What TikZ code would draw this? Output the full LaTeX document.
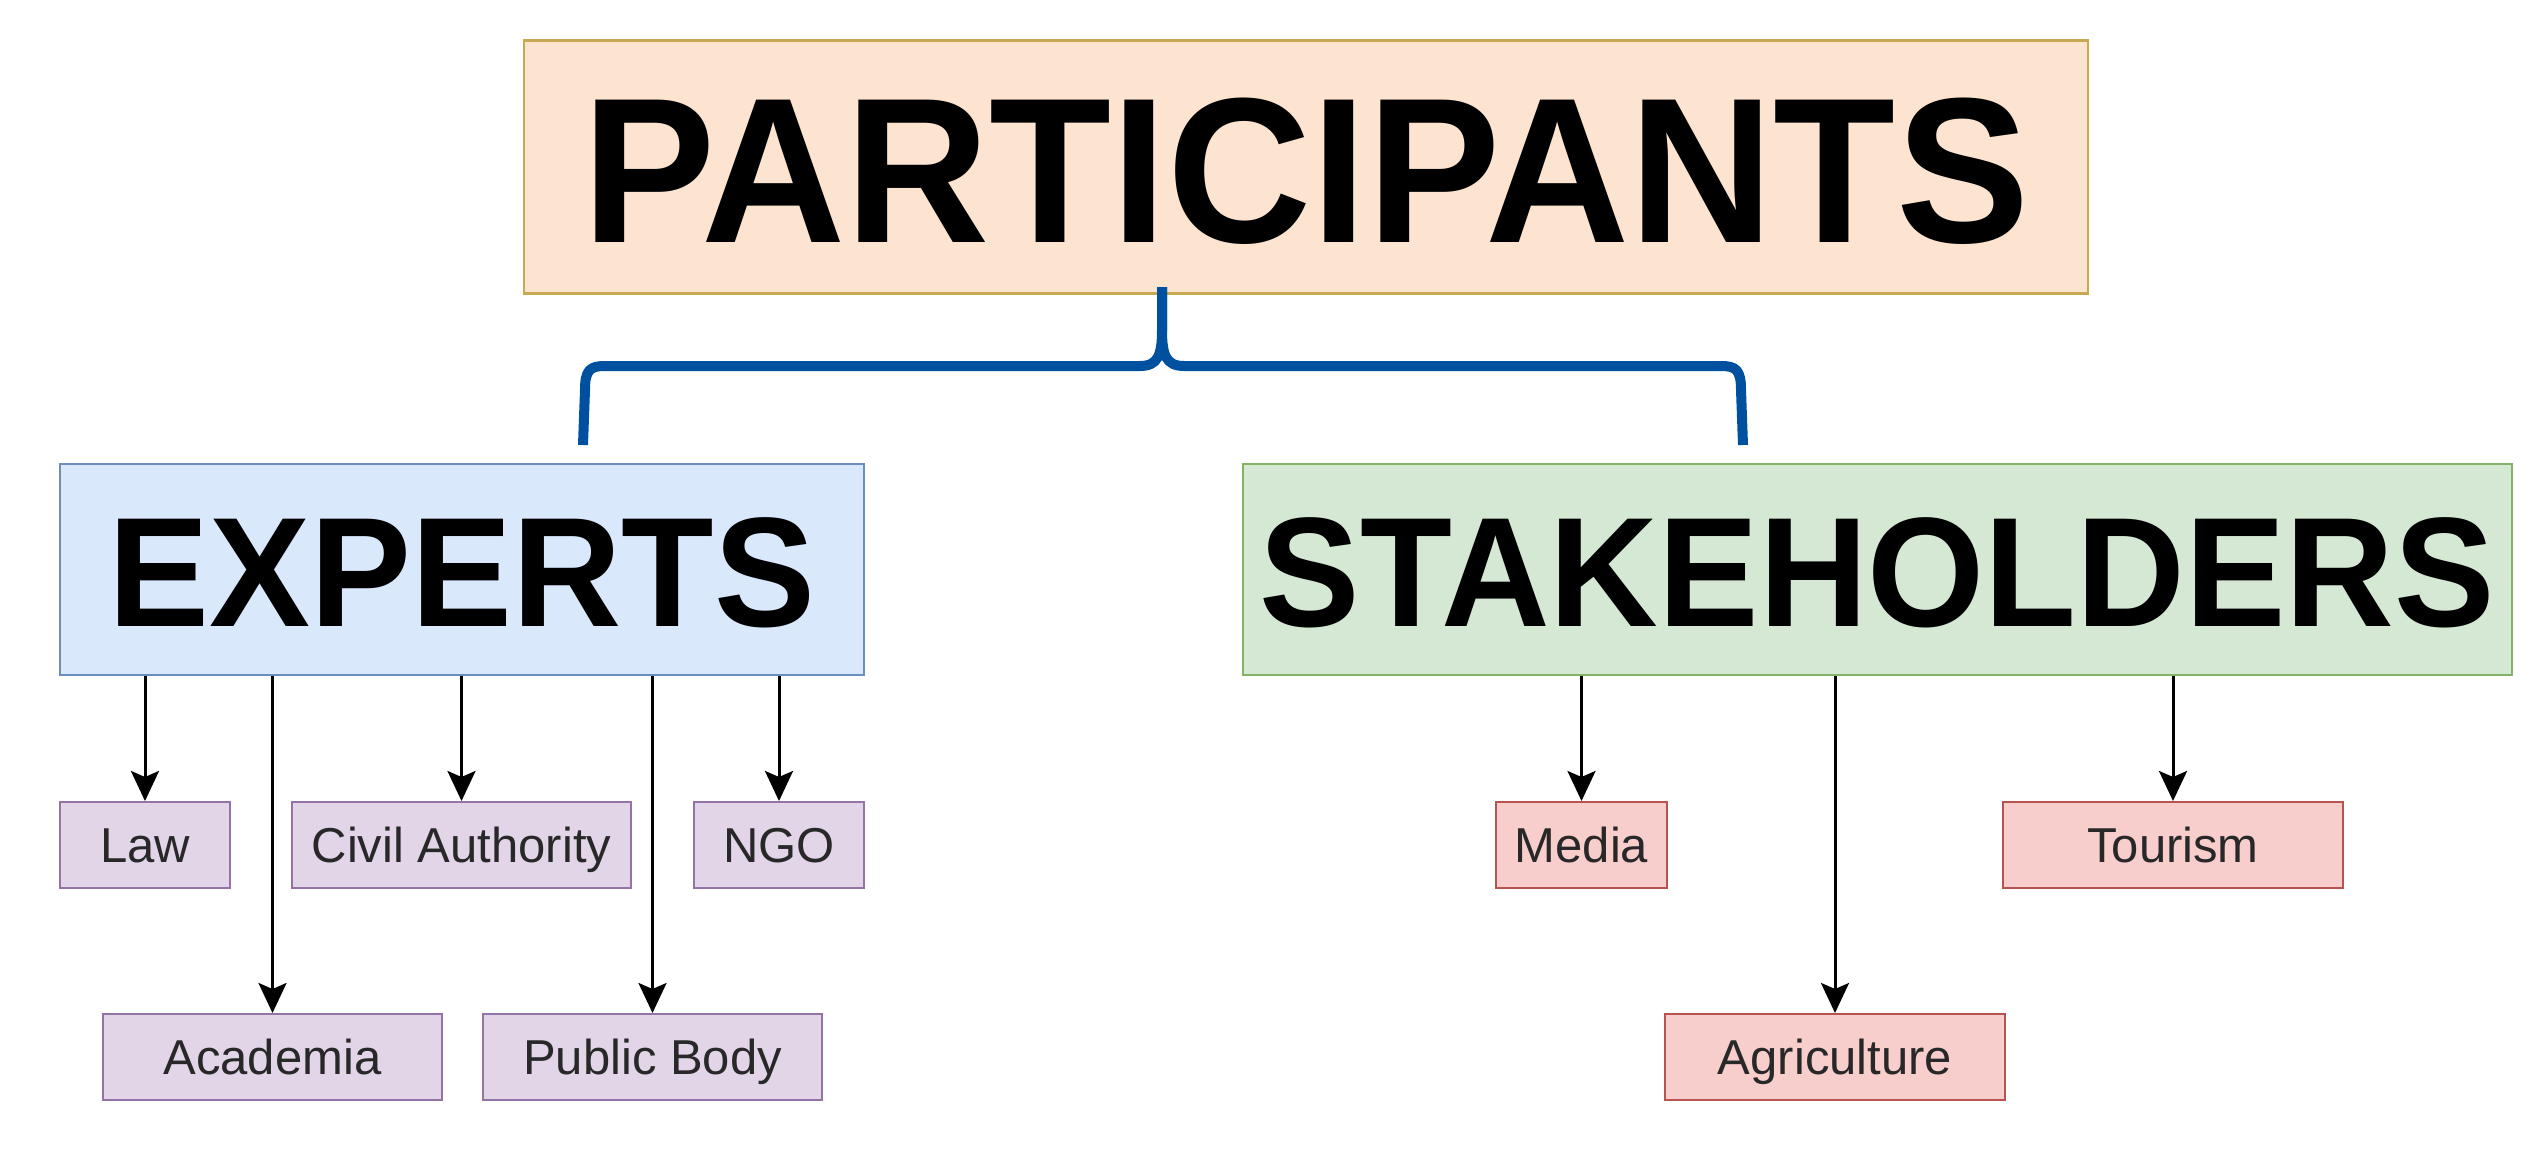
\documentclass[tikz,border=0pt]{standalone}
\usepackage{fontspec}
\usepackage{graphicx}
\setmainfont{Liberation Sans}
\usetikzlibrary{arrows.meta}
\definecolor{partfill}{RGB}{252,228,208}
\definecolor{partdraw}{RGB}{200,168,80}
\definecolor{expfill}{RGB}{218,232,252}
\definecolor{expdraw}{RGB}{108,142,191}
\definecolor{stkfill}{RGB}{213,232,212}
\definecolor{stkdraw}{RGB}{130,179,102}
\definecolor{purfill}{RGB}{225,213,231}
\definecolor{purdraw}{RGB}{150,115,166}
\definecolor{pinkfill}{RGB}{248,206,204}
\definecolor{pinkdraw}{RGB}{184,84,80}
\definecolor{bracecol}{RGB}{0,80,160}
\definecolor{txtgray}{RGB}{40,40,40}
\begin{document}
\begin{tikzpicture}[x=1pt,y=-1pt,
  bigbox/.style={draw, line width=2.5pt, inner sep=0pt, text depth=0pt},
  smallbox/.style={draw, line width=2pt, inner sep=0pt, minimum height=86pt,
     font=\fontsize{49}{55}\selectfont, text=txtgray, text height=35pt, text depth=0pt},
  purbox/.style={smallbox, fill=purfill, draw=purdraw},
  pinkbox/.style={smallbox, fill=pinkfill, draw=pinkdraw},
  arr/.style={draw=black, line width=3pt, -{Stealth[length=30pt,width=28pt,inset=6pt]}},
  bracestyle/.style={draw=bracecol, line width=10pt, line join=round}
]
\useasboundingbox (0,0) rectangle (2544,1170);
\fill[white] (0,0) rectangle (2544,1170);

\node[bigbox, fill=partfill, draw=partdraw, minimum width=1564pt, minimum height=253pt,
  font=\fontsize{207}{210}\selectfont\bfseries, text height=150pt] (part) at (1306,167)
  {\scalebox{0.965}[1]{PARTICIPANTS}};
\node[bigbox, fill=expfill, draw=expdraw, minimum width=804pt, minimum height=211pt,
  font=\fontsize{156}{160}\selectfont\bfseries, text height=113pt] (exp) at (462,569.5)
  {\scalebox{0.97}[1]{EXPERTS}};
\node[bigbox, fill=stkfill, draw=stkdraw, minimum width=1269pt, minimum height=211pt,
  font=\fontsize{156}{160}\selectfont\bfseries, text height=113pt] (stk) at (1877.5,569.5)
  {\scalebox{0.965}[1]{STAKEHOLDERS}};

\node[purbox, minimum width=170pt] (law) at (145,845) {Law};
\node[purbox, minimum width=339pt] (civ) at (461.5,845) {Civil Authority};
\node[purbox, minimum width=170pt] (ngo) at (779,845) {NGO};
\node[purbox, minimum width=339pt] (aca) at (272.5,1057) {Academia};
\node[purbox, minimum width=339pt] (pub) at (652.5,1057) {Public Body};

\node[pinkbox, minimum width=171pt] (med) at (1581.5,845) {Media};
\node[pinkbox, minimum width=340pt] (tou) at (2173,845) {Tourism};
\node[pinkbox, minimum width=340pt] (agr) at (1835,1057) {Agriculture};

\foreach \n in {law,civ,ngo,aca,pub}
  \draw[arr] (exp.south -| \n.north) -- (\n.north);
\foreach \n in {med,tou,agr}
  \draw[arr] (stk.south -| \n.north) -- (\n.north);

% brace
\coordinate (tip) at (1162,287);
\coordinate (bl) at (583,445);
\coordinate (br) at (1743,445);
\draw[bracestyle] (bl) -- (585,390) .. controls (585,370) and (590,366) .. (605,366)
  -- (1140,366) .. controls (1158,366) and (1162,355) .. (1162,330) -- (tip);
\draw[bracestyle] (br) -- (1741,390) .. controls (1741,370) and (1736,366) .. (1721,366)
  -- (1184,366) .. controls (1166,366) and (1162,355) .. (1162,330) -- (tip);
\end{tikzpicture}
\end{document}
